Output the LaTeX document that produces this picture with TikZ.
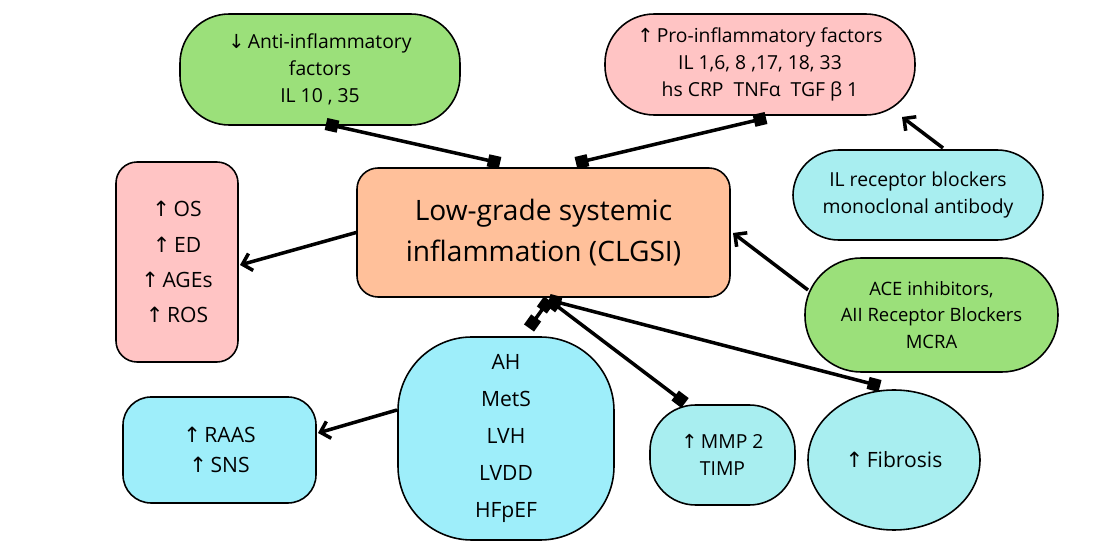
\documentclass[tikz,border=0pt]{standalone}
\usepackage{fontspec}
\setmainfont{Open Sans}
\newfontfamily\djvfont{DejaVu Sans}
\newcommand{\myup}{{\djvfont ↑}}
\newcommand{\mydn}{{\djvfont ↓}}
\usetikzlibrary{arrows.meta,shapes.geometric}
\definecolor{gr}{HTML}{9BE07A}
\definecolor{pk}{HTML}{FFC4C4}
\definecolor{cy}{HTML}{A8EEF0}
\definecolor{cy2}{HTML}{9EEEFA}
\definecolor{og}{HTML}{FFC09A}
\begin{document}
\begin{tikzpicture}[x=0.02cm,y=-0.02cm,
 box/.style={draw=black,line width=0.9pt,align=center,inner sep=0pt,font=\fontsize{11}{15.5}\selectfont},
 sz/.style 2 args={minimum width={#1*0.02cm},minimum height={#2*0.02cm}},
 sq/.style={line width=2pt,{Square[length=7pt,width=7pt]}-{Square[length=7pt,width=7pt]}},
 ar/.style={line width=2pt,-{Straight Barb[length=5pt,width=10pt]}}]
\useasboundingbox (0,0) rectangle (1100,560);
\node[box,fill=gr,sz={280}{111},rounded corners=28pt] (anti) at (320,69.5) {\mydn\,Anti-inflammatory\\factors\\IL 10 , 35};
\node[box,fill=pk,sz={310}{101},rounded corners=28pt] (pro) at (760,64.5) {\myup\,Pro-inflammatory factors\\IL 1,6, 8 ,17, 18, 33\\hs CRP~ TNFα~ TGF β 1};
\node[box,fill=cy,sz={250}{90},rounded corners=26pt] (il) at (918,195) {IL receptor blockers\\monoclonal antibody};
\node[box,fill=og,sz={373}{129},rounded corners=12pt,font=\fontsize{16}{23}\selectfont] (c) at (543.5,232.5) {Low-grade systemic\\inflammation (CLGSI)};
\node[box,fill=pk,sz={122}{200},rounded corners=12pt,font=\fontsize{12}{20}\selectfont] (os) at (177,262) {\myup\,OS\\\myup\,ED\\\myup\,AGEs\\\myup\,ROS};
\node[box,fill=gr,sz={253}{114},rounded corners=32pt,font=\fontsize{10.5}{15}\selectfont] (ace) at (931.5,315) {ACE inhibitors,\\AII Receptor Blockers\\MCRA};
\node[box,fill=cy2,sz={216}{203},rounded corners=42pt,font=\fontsize{12}{21}\selectfont] (ah) at (506,438.5) {AH\\MetS\\LVH\\LVDD\\HFpEF};
\node[box,fill=cy2,sz={193}{106},rounded corners=16pt,font=\fontsize{12}{17}\selectfont] (raas) at (219.5,450) {\myup\,RAAS\\\myup\,SNS};
\node[box,fill=cy,sz={145}{100},rounded corners=26pt] (mmp) at (722.5,455) {\myup\,MMP 2\\TIMP};
\node[box,fill=cy,ellipse,sz={172}{140},font=\fontsize{12}{17}\selectfont] (fib) at (894,460) {\myup\,Fibrosis};
\coordinate (b) at (549,300);
\draw[sq] (326,124) -- (500,163);
\draw[sq] (766,118) -- (576,163);
\draw[ar] (c.west) -- (240,265);
\draw[ar] (943,148) -- (902,117);
\draw[ar] (808,290) -- (733,233);
\draw[sq] (b) -- (529,328);
\draw[sq] (b) -- (685,403);
\draw[sq] (b) -- (880,386);
\draw[ar] (397,410) -- (318,433);
\end{tikzpicture}
\end{document}
